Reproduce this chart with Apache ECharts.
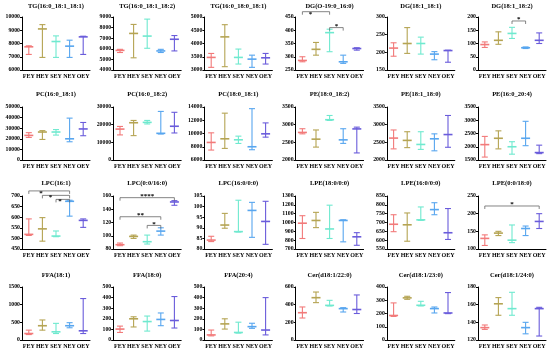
<!DOCTYPE html>
<html><head><meta charset="utf-8">
<script src="https://cdn.jsdelivr.net/npm/echarts@6/dist/echarts.min.js"></script>
<style>html,body{margin:0;padding:0;background:#fff}#c{width:550px;height:353px}</style>
</head><body><div id="c"></div>
<script>
const groups = ['FEY','HEY','SEY','NEY','OEY'];
const groupColors = ['#F27A7A','#B5A453','#6FE9CF','#58A6EF','#6A5CDB'];

const titles = [
  'TG(16:0_18:1_18:1)','TG(16:0_18:1_18:2)','TG(16:0_18:0_18:1)','DG(O-19:0_16:0)','DG(18:1_18:1)','DG(18:1_18:2)',
  'PC(16:0_18:1)','PC(16:0_18:2)','PC(18:0_18:1)','PE(18:0_18:2)','PE(18:1_18:0)','PE(16:0_20:4)',
  'LPC(16:1)','LPC(0:0/16:0)','LPC(16:0/0:0)','LPE(18:0/0:0)','LPE(16:0/0:0)','LPE(0:0/18:0)',
  'FFA(18:1)','FFA(18:0)','FFA(20:4)','Cer(d18:1/22:0)','Cer(d18:1/23:0)','Cer(d18:1/24:0)'
];
const yMin = [6000,4000,3000,250,150,0, 0,0,6000,2000,2000,1500, 450,80,80,700,550,100, 0,0,0,0,0,120];
const yMax = [10000,9000,5000,450,300,200, 50000,30000,14000,3500,3500,3500, 700,160,105,1300,850,250, 1500,500,500,600,400,180];
const yInterval = [1000,1000,500,50,50,50, 10000,10000,2000,500,500,500, 50,20,5,100,50,50, 500,100,100,200,100,20];

const means = [
  [7750,9100,8150,7800,8500],[5850,7450,7200,5800,6900],[3475,4250,3475,3410,3460],
  [286,328,391,281,331],[212,225,225,195,205],[96,112,138,84,112],
  [23200,26400,26400,20000,29300],[17500,21100,21300,15100,19100],[8650,9200,9050,8000,9950],
  [2780,2590,3140,2570,2880],[2620,2555,2440,2600,2720],[2080,2320,2000,2320,1780],
  [519,545,511,675,585],[86.5,99,91,107,151],[84.2,91.3,88.2,98.2,93],
  [992,1023,927,1023,838],[690,687,715,773,642],[130,145,125,158,178],
  [183,404,231,404,260],[103,200,174,194,184],[48,152,71,126,94],
  [309,479,392,355,345],[185,318,262,237,204],[134,161,155.5,134,155.5]
];
const lows = [
  [7175,6950,6950,6950,7175],[5650,5150,6050,5650,5800],[3100,3125,3225,3100,3225],
  [281,306,319,275,325],[189,197,195,179,172],[85,97,119,81,100],
  [21300,19400,23500,17200,22900],[14200,13800,20400,14700,15300],[7500,7750,8500,7550,9450],
  [2740,2365,3120,2470,2200],[2315,2350,2300,2260,2360],[1610,1920,1720,2040,1740],
  [514,487,508,605,552],[85,96,87.5,101,146],[83.5,89.8,88,85.5,82.2],
  [819,942,819,781,742],[648,594,712,744,604],[110,138,118,138,158],
  [154,279,183,346,183],[71,123,84,135,113],[39,103,65,110,48],
  [249,423,385,317,300],[178,307,257,204,199],[132,148,148,127,124.5]
];
const highs = [
  [7825,9425,8575,8250,8550],[5950,8300,8800,5950,7250],[3625,4710,3790,3560,3625],
  [300,354,404,306,334],[227,270,243,202,206],[106,144,161,87,140],
  [25800,27700,28700,39500,35400],[19000,22400,22400,27500,27000],[10100,13070,9600,13750,11600],
  [2885,2850,3260,2885,2930],[2850,2800,2800,2740,3260],[2390,2600,2190,2960,2060],
  [592,598,535,680,592],[89,101,101,112,153],[86,96.8,103,102,102.5],
  [1077,1115,1196,1031,885],[744,754,788,812,779],[140,150,168,165,200],
  [279,567,471,490,1173],[131,219,226,255,410],[94,200,168,158,400],
  [374,543,449,366,510],[280,330,292,249,358],[137,168,174,140,157]
];
// significance brackets: [panel, fromGroup, toGroup, yLevel, label]
const brackets = [
  [3,0,2,470,'*'],[3,2,3,410,'*'],[5,2,3,185,'*'],
  [12,0,3,724,'*'],[12,1,3,703,'*'],[12,2,3,684,'*'],
  [13,0,4,157.5,'****'],[13,0,3,128.7,'**'],[13,2,3,115.6,'*'],
  [17,0,4,221.7,'*']
];
const starBelowLeft = [0,3,4,5];

const FONT = '"Liberation Serif", "Times New Roman", serif';
const rowTops = [17, 107, 196, 287];
const titleTops = [2.5, 91, 179.5, 272];
const colLeft = c => 22 + c * 91.2;
const plotW = 68, plotH = 53;

const grid = [], xAxis = [], yAxis = [], series = [], title = [];
for (let p = 0; p < 24; p++) {
  const r = Math.floor(p / 6), c = p % 6;
  grid.push({left: colLeft(c), top: rowTops[r], width: plotW, height: plotH, containLabel: false});
  title.push({
    text: titles[p], left: colLeft(c) + plotW / 2, top: titleTops[r], textAlign: 'center', padding: 0,
    textStyle: {fontFamily: FONT, fontWeight: 'bold', fontSize: 6.5, color: '#000'}
  });
  xAxis.push({
    type: 'category', gridIndex: p, data: groups, boundaryGap: true,
    axisLine: {lineStyle: {color: '#000', width: 1}},
    axisTick: {alignWithLabel: true, length: 2, lineStyle: {color: '#000'}},
    axisLabel: {interval: 0, margin: 3, fontFamily: FONT, fontWeight: 'bold', fontSize: 6, color: '#000'},
    splitLine: {show: false}
  });
  yAxis.push({
    type: 'value', gridIndex: p, min: yMin[p], max: yMax[p], interval: yInterval[p],
    axisLine: {show: true, lineStyle: {color: '#000', width: 1}},
    axisTick: {show: true, length: 2, lineStyle: {color: '#000'}},
    axisLabel: {margin: 2, fontFamily: FONT, fontWeight: 'bold', fontSize: 5.8, color: '#000', formatter: v => String(v)},
    splitLine: {show: false}
  });
  const data = groups.map((g, i) => [i, means[p][i], lows[p][i], highs[p][i]]);
  series.push({
    type: 'custom', xAxisIndex: p, yAxisIndex: p, clip: false,
    encode: {x: 0, y: [1, 2, 3]},
    data,
    renderItem: (params, api) => {
      const i = api.value(0);
      const pm = api.coord([i, api.value(1)]);
      const pl = api.coord([i, api.value(2)]);
      const ph = api.coord([i, api.value(3)]);
      const cx = pm[0];
      const col = groupColors[i];
      const st = {stroke: col, lineWidth: 1.1};
      return {type: 'group', children: [
        {type: 'line', shape: {x1: cx, y1: pl[1], x2: cx, y2: ph[1]}, style: st},
        {type: 'line', shape: {x1: cx - 3, y1: pl[1], x2: cx + 3, y2: pl[1]}, style: st},
        {type: 'line', shape: {x1: cx - 3, y1: ph[1], x2: cx + 3, y2: ph[1]}, style: st},
        {type: 'line', shape: {x1: cx - 4.5, y1: pm[1], x2: cx + 4.5, y2: pm[1]}, style: {stroke: col, lineWidth: 1.6}}
      ]};
    }
  });
}
// brackets
brackets.forEach((b, bi) => {
  const [p, f, t, y, lab] = b;
  series.push({
    type: 'custom', xAxisIndex: p, yAxisIndex: p, clip: false, z: 5,
    encode: {x: [0, 1], y: 2},
    data: [[f, t, y]],
    renderItem: (params, api) => {
      const a = api.coord([api.value(0), api.value(2)]);
      const bb = api.coord([api.value(1), api.value(2)]);
      const below = starBelowLeft.includes(bi);
      const tx = below ? a[0] + (bb[0] - a[0]) * 0.3 : (a[0] + bb[0]) / 2;
      const ty = below ? a[1] + 5.5 : a[1] + 2;
      return {type: 'group', children: [
        {type: 'polyline', shape: {points: [[a[0], a[1] + 3], [a[0], a[1]], [bb[0], bb[1]], [bb[0], bb[1] + 3]]},
         style: {stroke: '#666', lineWidth: 0.8, fill: null}},
        {type: 'text', style: {text: lab, x: tx, y: ty, align: 'center', verticalAlign: 'bottom',
          font: 'bold 7px ' + FONT, fill: '#000'}}
      ]};
    }
  });
});

const chart = echarts.init(document.getElementById('c'), null, {renderer: 'canvas'});
chart.setOption({animation: false, backgroundColor: '#fff', title, grid, xAxis, yAxis, series});
</script></body></html>
